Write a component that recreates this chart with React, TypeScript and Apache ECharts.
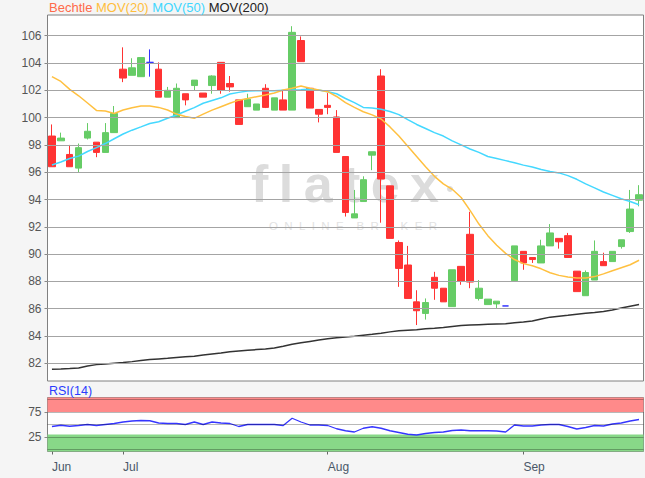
import React, { useEffect, useRef } from 'react';
import * as echarts from 'echarts';

const dates = [
  '2019-06-19', '2019-06-20', '2019-06-21', '2019-06-24', '2019-06-25', '2019-06-26', '2019-06-27', '2019-06-28',
  '2019-07-01', '2019-07-02', '2019-07-03', '2019-07-04', '2019-07-05', '2019-07-08', '2019-07-09', '2019-07-10',
  '2019-07-11', '2019-07-12', '2019-07-15', '2019-07-16', '2019-07-17', '2019-07-18', '2019-07-19', '2019-07-22',
  '2019-07-23', '2019-07-24', '2019-07-25', '2019-07-26', '2019-07-29', '2019-07-30', '2019-07-31',
  '2019-08-01', '2019-08-02', '2019-08-05', '2019-08-06', '2019-08-07', '2019-08-08', '2019-08-09', '2019-08-12',
  '2019-08-13', '2019-08-14', '2019-08-15', '2019-08-16', '2019-08-19', '2019-08-20', '2019-08-21', '2019-08-22',
  '2019-08-23', '2019-08-26', '2019-08-27', '2019-08-28', '2019-08-29', '2019-08-30',
  '2019-09-02', '2019-09-03', '2019-09-04', '2019-09-05', '2019-09-06', '2019-09-09', '2019-09-10', '2019-09-11',
  '2019-09-12', '2019-09-13', '2019-09-16', '2019-09-17', '2019-09-18', '2019-09-19',
];

const opens = [
  98.65, 98.3, 97.3, 96.3, 98.5, 98.2, 97.45, 98.9, 103.55, 103.1,
  103.0, 104.05, 103.55, 101.5, 100.0, 101.75, 102.35, 101.8, 102.35, 104.05,
  102.5, 101.3, 100.8, 100.55, 102.15, 100.55, 101.3, 100.55, 105.65, 102.15,
  100.6, 100.9, 100.05, 97.15, 92.65, 93.85, 97.25, 103.05, 95.0, 90.85,
  89.2, 86.5, 85.65, 88.3, 87.5, 86.15, 89.1, 91.45, 86.75, 86.3,
  86.35, 86.2, 88.05, 90.2, 89.75, 89.35, 90.6, 91.15, 91.35, 88.75,
  86.95, 88.1, 89.45, 89.45, 90.55, 91.65, 93.95,
];
const closes = [
  96.4, 98.5, 96.4, 97.8, 99.0, 97.45, 98.9, 100.3, 102.9, 103.65,
  104.4, 104.05, 101.5, 102.0, 102.15, 101.3, 102.75, 101.5, 103.05, 102.0,
  102.25, 99.5, 101.35, 101.0, 100.75, 101.45, 100.55, 106.25, 104.1, 100.7,
  100.25, 100.75, 97.45, 93.05, 92.95, 95.45, 97.5, 95.5, 91.15, 88.95,
  86.75, 85.85, 86.45, 87.5, 86.5, 88.85, 88.0, 87.95, 87.5, 86.7,
  86.55, 86.2, 90.6, 89.35, 89.6, 90.6, 91.55, 90.9, 89.75, 87.25,
  88.65, 90.2, 89.15, 90.2, 91.05, 93.3, 94.35,
];
const lows = [
  96.4, 98.3, 96.4, 96.0, 98.4, 97.1, 97.45, 98.9, 102.6, 103.1,
  103.0, 103.0, 101.5, 101.5, 100.0, 100.9, 102.0, 101.5, 101.75, 101.75,
  101.9, 99.5, 100.8, 100.55, 100.7, 100.55, 100.55, 100.55, 104.1, 100.7,
  99.65, 100.25, 97.45, 92.75, 92.65, 93.85, 96.15, 92.3, 91.15, 87.6,
  86.75, 84.8, 85.2, 86.65, 86.5, 86.15, 87.75, 87.5, 86.6, 86.3,
  86.05, 86.2, 88.05, 88.85, 89.35, 89.35, 90.6, 90.4, 89.75, 87.25,
  86.95, 88.1, 89.15, 89.45, 90.4, 91.55, 93.5,
];
const highs = [
  99.5, 98.9, 98.0, 98.1, 99.6, 98.2, 99.6, 100.85, 105.15, 104.35,
  104.4, 105.0, 104.05, 102.25, 102.5, 101.75, 102.75, 101.8, 103.1, 104.05,
  103.05, 101.3, 101.75, 101.0, 102.45, 101.45, 102.0, 106.7, 105.95, 102.15,
  100.6, 101.8, 100.55, 97.15, 94.7, 95.7, 97.5, 103.55, 95.0, 91.0,
  90.6, 87.35, 86.75, 88.7, 87.5, 88.85, 89.1, 93.1, 88.1, 86.7,
  86.55, 86.2, 90.6, 90.2, 89.75, 91.05, 92.2, 91.15, 91.55, 88.75,
  88.8, 91.0, 90.1, 90.2, 91.05, 94.7, 95.05,
];

const mov20 = [
  103.0, 102.65, 102.07, 101.6, 101.07, 100.53, 100.48, 100.3, 100.56, 100.72,
  100.85, 100.85, 100.75, 100.56, 100.26, 100.08, 99.95, 100.26, 100.55, 100.8,
  101.05, 101.28, 101.4, 101.53, 101.66, 101.8, 102.02, 102.15, 102.32, 102.15,
  102.02, 101.9, 101.55, 101.1, 100.75, 100.43, 100.2, 99.9, 99.32, 98.65,
  97.9, 97.15, 96.4, 95.7, 95.15, 94.75, 94.15, 93.2, 92.2, 91.35,
  90.65, 90.05, 89.6, 89.3, 89.15, 88.92, 88.63, 88.44, 88.32, 88.24,
  88.25, 88.35, 88.55, 88.78, 89.0, 89.22, 89.55,
];
const mov50 = [
  96.53, 96.75, 97.0, 97.18, 97.52, 97.8, 98.1, 98.45, 98.8, 99.08,
  99.32, 99.57, 99.7, 99.95, 100.19, 100.47, 100.73, 101.05, 101.25, 101.45,
  101.73, 101.85, 101.95, 101.97, 101.97, 101.97, 102.0, 102.02, 102.05, 102.1,
  102.02, 101.9, 101.75, 101.4, 101.1, 100.75, 100.7, 100.62, 100.45, 100.22,
  99.85, 99.5, 99.2, 98.9, 98.65, 98.3, 98.0, 97.7, 97.45, 97.15,
  97.0, 96.85, 96.7, 96.52, 96.38, 96.2, 96.05, 95.95, 95.75, 95.48,
  95.15, 94.85, 94.55, 94.3, 94.05, 93.85, 93.62,
];
const mov200 = [
  81.56, 81.58, 81.61, 81.65, 81.8, 81.9, 81.95, 82.0, 82.05, 82.12,
  82.2, 82.27, 82.32, 82.36, 82.42, 82.47, 82.52, 82.6, 82.68, 82.75,
  82.85, 82.9, 82.95, 83.0, 83.05, 83.12, 83.25, 83.4, 83.5, 83.6,
  83.7, 83.8, 83.87, 83.93, 83.98, 84.05, 84.12, 84.2, 84.3, 84.38,
  84.42, 84.46, 84.52, 84.56, 84.62, 84.7, 84.76, 84.8, 84.83, 84.86,
  84.88, 84.9, 84.97, 85.02, 85.1, 85.25, 85.38, 85.45, 85.52, 85.6,
  85.66, 85.72, 85.8, 85.9, 86.05, 86.18, 86.3,
];
const rsi14 = [
  46, 48.5, 46.5, 48, 50, 48, 50, 52, 55, 57,
  58, 57.5, 53, 52, 52, 50, 55, 50, 55, 53,
  52, 46, 50, 50, 50, 50, 48, 62.5, 55, 49,
  49, 48, 41.5, 37.5, 35, 42.5, 45.5, 42.5, 37.5, 34,
  30.5, 29, 32, 34, 35, 38, 39, 37.5, 37.5, 37.5,
  37, 35, 49, 47, 47, 49, 50, 50, 46, 41,
  44, 48, 47, 51, 53, 57, 60,
];

const priceTicks = [82, 84, 86, 88, 90, 92, 94, 96, 98, 100, 102, 104, 106];
const rsiTicks = [25, 75];
const rsiGridLines = [0, 25, 50, 75, 100];
const rsiOverbought = [75, 104];
const rsiOversold = [-4, 30];
const monthLabels = ['Jun', 'Jul', 'Aug', 'Sep'];
const monthStarts = [0, 8, 31, 53];

const FONT = 'Liberation Sans, Arial, sans-serif';

export default function App() {
  const ref = useRef<HTMLDivElement>(null);

  useEffect(() => {
    if (!ref.current) return;
    const chart = echarts.init(ref.current, null, { renderer: 'svg' });
    const candles = dates.map((_, i) => [opens[i], closes[i], lows[i], highs[i]]);

    const option: any = {
      animation: false,
      backgroundColor: '#f5f5f5',
      textStyle: { fontFamily: FONT },
      title: [
        {
          text: '{a|Bechtle} {b|MOV(20)} {c|MOV(50)} {d|MOV(200)}',
          left: 49,
          top: 1,
          padding: 0,
          textStyle: {
            fontSize: 13,
            fontWeight: 'normal',
            fontFamily: FONT,
            rich: {
              a: { color: '#ff6a4a', fontSize: 13, fontFamily: FONT },
              b: { color: '#ffbe3c', fontSize: 13, fontFamily: FONT },
              c: { color: '#3fd7ff', fontSize: 13, fontFamily: FONT },
              d: { color: '#222222', fontSize: 13, fontFamily: FONT },
            },
          },
        },
        {
          text: 'RSI(14)',
          left: 49,
          top: 384,
          padding: 0,
          textStyle: { color: '#2a3cff', fontSize: 12.5, fontWeight: 'normal', fontFamily: FONT },
        },
      ],
      graphic: [
        {
          type: 'text',
          x: 345,
          y: 184,
          z: 1,
          silent: true,
          style: {
            text: 'f\u2009l\u2009a\u2009t\u2009e\u2009x',
            fill: '#dcdcdc',
            font: 'bold 52px Liberation Sans, Arial, sans-serif',
            align: 'center',
            verticalAlign: 'middle',
            textAlign: 'center',
            textVerticalAlign: 'middle',
          },
        },
        {
          type: 'circle',
          z: 1,
          silent: true,
          shape: { cx: 450, cy: 189, r: 3 },
          style: { fill: '#dcdcdc' },
        },
        {
          type: 'text',
          x: 353,
          y: 226,
          z: 1,
          silent: true,
          style: {
            text: 'O\u00a0\u00a0N\u00a0\u00a0L\u00a0\u00a0I\u00a0\u00a0N\u00a0\u00a0E\u00a0\u00a0\u00a0\u00a0B\u00a0\u00a0R\u00a0\u00a0O\u00a0\u00a0K\u00a0\u00a0E\u00a0\u00a0R',
            fill: '#e2e2e2',
            font: '11.5px Liberation Sans, Arial, sans-serif',
            align: 'center',
            verticalAlign: 'middle',
            textAlign: 'center',
            textVerticalAlign: 'middle',
          },
        },
      ],
      grid: [
        {
          left: 47.5,
          top: 15,
          width: 596,
          height: 366,
          show: true,
          backgroundColor: '#ffffff',
          borderColor: '#808080',
          borderWidth: 1,
        },
        {
          left: 47.5,
          top: 397.5,
          width: 596,
          height: 54,
          show: true,
          backgroundColor: '#ffffff',
          borderColor: '#808080',
          borderWidth: 1,
        },
      ],
      xAxis: [
        {
          type: 'category',
          gridIndex: 0,
          data: dates,
          boundaryGap: true,
          show: false,
        },
        {
          type: 'category',
          gridIndex: 1,
          data: dates,
          boundaryGap: true,
          axisLine: { show: false },
          splitLine: { show: false },
          axisTick: {
            show: true,
            alignWithLabel: true,
            length: 5,
            interval: (i: number) => monthStarts.includes(i),
            lineStyle: { color: '#666' },
          },
          axisLabel: {
            interval: (i: number) => monthStarts.includes(i),
            formatter: (_v: string, i: number) => monthLabels[monthStarts.indexOf(i)] || '',
            align: 'left',
            color: '#4a5868',
            fontSize: 12,
            margin: 9,
            fontFamily: FONT,
          },
        },
      ],
      yAxis: [
        {
          type: 'value',
          gridIndex: 0,
          min: 80.7,
          max: 107.52,
          splitLine: { show: false },
          axisLine: { show: false },
          axisTick: { show: true, customValues: priceTicks, length: 3, lineStyle: { color: '#888' } },
          axisLabel: { customValues: priceTicks, color: '#555', fontSize: 12, margin: 6, fontFamily: FONT },
        },
        {
          type: 'value',
          gridIndex: 1,
          min: -4,
          max: 104,
          splitLine: { show: false },
          axisLine: { show: false },
          axisTick: { show: true, customValues: rsiTicks, length: 3, lineStyle: { color: '#888' } },
          axisLabel: { customValues: rsiTicks, color: '#555', fontSize: 12, margin: 6, fontFamily: FONT },
        },
      ],
      series: [
        {
          name: 'grid-main',
          type: 'line',
          xAxisIndex: 0,
          yAxisIndex: 0,
          data: [],
          z: 1,
          silent: true,
          markLine: {
            silent: true,
            symbol: 'none',
            label: { show: false },
            emphasis: { disabled: true },
            lineStyle: { color: '#a4a4a4', width: 1.2, type: 'solid' },
            data: priceTicks.map((v) => ({ yAxis: v })),
          },
        },
        {
          name: 'Bechtle',
          type: 'candlestick',
          xAxisIndex: 0,
          yAxisIndex: 0,
          data: candles,
          barWidth: 7,
          z: 3,
          itemStyle: {
            color: '#66cc66',
            color0: '#ff3333',
            borderColor: '#66cc66',
            borderColor0: '#ff3333',
            borderColorDoji: '#3333ff',
            borderWidth: 1,
          },
        },
        {
          name: 'MOV(200)',
          type: 'line',
          xAxisIndex: 0,
          yAxisIndex: 0,
          data: mov200,
          showSymbol: false,
          z: 4,
          lineStyle: { color: '#333333', width: 1.5 },
        },
        {
          name: 'MOV(50)',
          type: 'line',
          xAxisIndex: 0,
          yAxisIndex: 0,
          data: mov50,
          showSymbol: false,
          z: 4,
          lineStyle: { color: '#44d8ff', width: 1.5 },
        },
        {
          name: 'MOV(20)',
          type: 'line',
          xAxisIndex: 0,
          yAxisIndex: 0,
          data: mov20,
          showSymbol: false,
          z: 4,
          lineStyle: { color: '#ffc040', width: 1.5 },
        },
        {
          name: 'rsi-bands',
          type: 'line',
          xAxisIndex: 1,
          yAxisIndex: 1,
          data: [],
          z: 1,
          silent: true,
          markArea: {
            silent: true,
            data: [
              [
                { yAxis: rsiOverbought[0], itemStyle: { color: '#ff8a8a' } },
                { yAxis: rsiOverbought[1] },
              ],
              [
                { yAxis: rsiOversold[0], itemStyle: { color: '#88d888' } },
                { yAxis: rsiOversold[1] },
              ],
            ],
          },
        },
        {
          name: 'rsi-grid',
          type: 'line',
          xAxisIndex: 1,
          yAxisIndex: 1,
          data: [],
          z: 2,
          silent: true,
          markLine: {
            silent: true,
            symbol: 'none',
            label: { show: false },
            emphasis: { disabled: true },
            lineStyle: { color: 'rgba(0,0,0,0.28)', width: 1, type: 'solid' },
            data: rsiGridLines.map((v) => ({ yAxis: v })),
          },
        },
        {
          name: 'RSI(14)',
          type: 'line',
          xAxisIndex: 1,
          yAxisIndex: 1,
          data: rsi14,
          showSymbol: false,
          z: 4,
          lineStyle: { color: '#3535ff', width: 1.3 },
        },
      ],
    };

    chart.setOption(option);
    return () => chart.dispose();
  }, []);

  return (
    <div
      ref={ref}
      style={{ position: 'fixed', left: 0, top: 0, width: 645, height: 478, background: '#f5f5f5' }}
    />
  );
}
